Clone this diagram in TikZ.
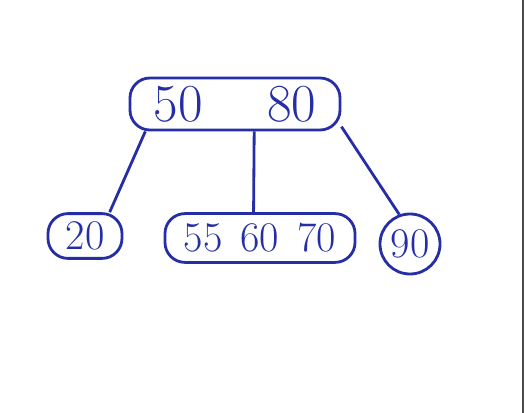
\documentclass[tikz,border=0pt]{standalone}
\definecolor{inkblue}{RGB}{38,46,165}
\begin{document}
\begin{tikzpicture}[x=0.025cm, y=-0.025cm,
  ink/.style={draw=inkblue, line width=2pt},
  keybox/.style={ink, rounded corners=0.5cm, inner sep=0pt, text=inkblue},
  keyring/.style={ink, circle, inner sep=0pt, text=inkblue}]
\useasboundingbox (0,0) rectangle (526,413);
\node[keybox, minimum width=5.25cm, minimum height=1.3cm, font=\fontsize{38}{38}\selectfont] (root) at (235,104) {50\hspace{1.6cm}80};
\node[keybox, minimum width=1.85cm, minimum height=1.12cm, font=\fontsize{30}{30}\selectfont] (c20) at (85,236) {20};
\node[keybox, minimum width=4.75cm, minimum height=1.22cm, font=\fontsize{30}{30}\selectfont] (c55) at (260,238) {55\hspace{0.45cm}60\hspace{0.45cm}70};
\node[keyring, minimum size=1.5cm, font=\fontsize{30}{30}\selectfont] (c90) at (410,244) {90};
\draw[ink] (root.197) -- (c20.44);
\draw[ink] (root.305) -- (c55.104);
\draw[ink] (root.348) -- (c90.110);
% scan edge
\coordinate (et) at (523,0);
\coordinate (eb) at (523,413);
\draw[black!70, line width=0.8pt] (et) -- (eb);
\end{tikzpicture}
\end{document}
